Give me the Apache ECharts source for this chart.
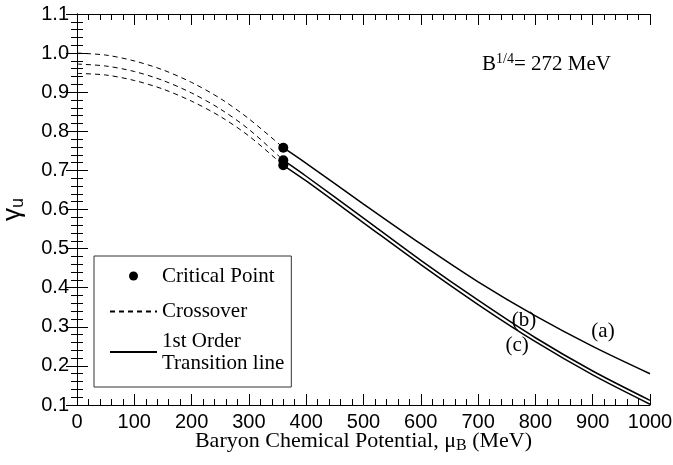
<!DOCTYPE html>
<html><head><meta charset="utf-8">
<script src="https://cdn.jsdelivr.net/npm/echarts@6/dist/echarts.min.js"></script>
<style>html,body{margin:0;padding:0;background:#fff}#c{width:673px;height:465px}</style>
</head><body><div id="c"></div>
<script>
// ---- data ----
const xCross = [0, 50, 100, 150, 200, 250, 300, 360];
const crossA = [1.000, 0.995, 0.980, 0.957, 0.925, 0.884, 0.832, 0.758];
const crossB = [0.972, 0.967, 0.953, 0.930, 0.898, 0.857, 0.805, 0.726];
const crossC = [0.948, 0.944, 0.930, 0.908, 0.877, 0.838, 0.788, 0.713];
const xFirst = [360, 400, 500, 600, 700, 800, 900, 1000];
const firstA = [0.758, 0.718, 0.614, 0.512, 0.415, 0.328, 0.250, 0.180];
const firstB = [0.726, 0.685, 0.578, 0.470, 0.368, 0.272, 0.187, 0.112];
const firstC = [0.713, 0.673, 0.566, 0.459, 0.357, 0.262, 0.177, 0.102];
const critX = [360, 360, 360];
const critY = [0.758, 0.726, 0.713];
const curveLabels = ['(a)', '(b)', '(c)'];
const curveLabelX = [918, 780, 768];
const curveLabelY = [0.288, 0.315, 0.252];
const noteText = 'B^{1/4}= 272 MeV';
const noteX = 707, noteY = 0.972;

// ---- styles ----
const SANS = "'Liberation Sans',Arial,sans-serif";
const SERIF = "'Liberation Serif','Times New Roman',serif";
const zip = (xs, ys) => xs.map((x, i) => [x, ys[i]]);
const NAME_CROSS = 'Crossover';
const NAME_FIRST = '1st Order\nTransition line';
const NAME_CRIT = 'Critical Point';
const HIDE_SYMBOL = {color: 'rgba(0,0,0,0)', borderColor: 'rgba(0,0,0,0)', borderWidth: 0, opacity: 0};

const axisCommon = {
  type: 'value',
  axisLine: {show: true, lineStyle: {color: '#000', width: 1}},
  axisTick: {show: true, inside: true, length: 11, lineStyle: {color: '#000', width: 1}},
  minorTick: {show: true, splitNumber: 5, length: 6, lineStyle: {color: '#000', width: 1}},
  splitLine: {show: false},
  minorSplitLine: {show: false}
};

const crossSeries = [crossA, crossB, crossC].map(ys => ({
  name: NAME_CROSS, type: 'line', data: zip(xCross, ys), smooth: 0.3,
  symbol: 'none', silent: true,
  lineStyle: {color: '#000', width: 1, type: [5, 4]}, itemStyle: {color: '#000'}
}));
const firstSeries = [firstA, firstB, firstC].map(ys => ({
  name: NAME_FIRST, type: 'line', data: zip(xFirst, ys), smooth: 0.3,
  symbol: 'none', silent: true,
  lineStyle: {color: '#000', width: 1.5, type: 'solid'}, itemStyle: {color: '#000'}
}));

const option = {
  animation: false,
  backgroundColor: '#fff',
  grid: {left: 77, right: 23, top: 14, bottom: 60, containLabel: false, outerBoundsMode: 'none'},
  xAxis: [
    Object.assign({}, axisCommon, {
      position: 'bottom', min: 0, max: 1000, interval: 100,
      axisLabel: {fontFamily: SANS, fontSize: 20, color: '#000', margin: 7,
        formatter: v => String(Math.round(v))},
      name: '{t|Baryon Chemical Potential, μ}{s|B}{t| (MeV)}',
      nameLocation: 'middle', nameGap: 23, nameMoveOverlap: false,
      nameTextStyle: {
        rich: {
          t: {fontFamily: SERIF, fontSize: 22, color: '#000', lineHeight: 26},
          s: {fontFamily: SERIF, fontSize: 16, color: '#000', lineHeight: 16, verticalAlign: 'bottom'}
        }
      }
    }),
    Object.assign({}, axisCommon, {
      position: 'top', min: 0, max: 1000, interval: 100,
      axisLabel: {show: false}
    })
  ],
  yAxis: [
    Object.assign({}, axisCommon, {
      position: 'left', min: 0.1, max: 1.1, interval: 0.1,
      axisLabel: {fontFamily: SANS, fontSize: 20, color: '#000', margin: 8,
        formatter: v => v.toFixed(1)},
      name: '{g|γ}{s|u}', nameLocation: 'middle', nameGap: 50,
      nameTextStyle: {
        rich: {
          g: {fontFamily: SANS, fontSize: 26, color: '#000', lineHeight: 28},
          s: {fontFamily: SANS, fontSize: 18, color: '#000', lineHeight: 18, verticalAlign: 'bottom'}
        }
      }
    }),
    Object.assign({}, axisCommon, {
      position: 'right', min: 0.1, max: 1.1, interval: 0.1,
      axisLabel: {show: false}
    })
  ],
  legend: {
    show: true, orient: 'vertical', left: 94, top: 256,
    itemWidth: 47, itemHeight: 9, itemGap: 8,
    padding: [3, 7, 13, 15],
    borderColor: '#333', borderWidth: 1, backgroundColor: '#fff',
    selectedMode: false,
    textStyle: {fontFamily: SERIF, fontSize: 21, color: '#000'},
    data: [
      {name: NAME_CRIT, icon: 'circle', textStyle: {lineHeight: 34}, itemStyle: {color: '#000', opacity: 1}},
      {name: NAME_CROSS, textStyle: {lineHeight: 20}, itemStyle: HIDE_SYMBOL},
      {name: NAME_FIRST, textStyle: {lineHeight: 22}, itemStyle: HIDE_SYMBOL}
    ]
  },
  series: [
    ...crossSeries,
    ...firstSeries,
    {
      name: NAME_CRIT, type: 'scatter', data: zip(critX, critY),
      symbol: 'circle', symbolSize: 10, silent: true, z: 5,
      itemStyle: {color: '#000', opacity: 1}
    },
    {
      name: 'labels', type: 'scatter', symbolSize: 0, silent: true,
      itemStyle: {color: '#000', opacity: 1},
      data: curveLabels.map((t, i) => ({name: t, value: [curveLabelX[i], curveLabelY[i]]})),
      label: {show: true, position: 'inside', formatter: p => p.name, opacity: 1,
        fontFamily: SERIF, fontSize: 21, color: '#000'}
    },
    {
      name: 'note', type: 'scatter', symbolSize: 0, silent: true,
      itemStyle: {color: '#000', opacity: 1},
      data: [{name: noteText, value: [noteX, noteY]}],
      label: {show: true, position: 'right', distance: 0, opacity: 1,
        formatter: '{m|B}{p|1/4}{m|= 272 MeV}',
        rich: {
          m: {fontFamily: SERIF, fontSize: 21, color: '#000', lineHeight: 24},
          p: {fontFamily: SERIF, fontSize: 14, color: '#000', lineHeight: 14, verticalAlign: 'top'}
        }}
    }
  ]
};
const chart = echarts.init(document.getElementById('c'), null, {renderer: 'canvas'});
chart.setOption(option);
</script>
</body></html>
